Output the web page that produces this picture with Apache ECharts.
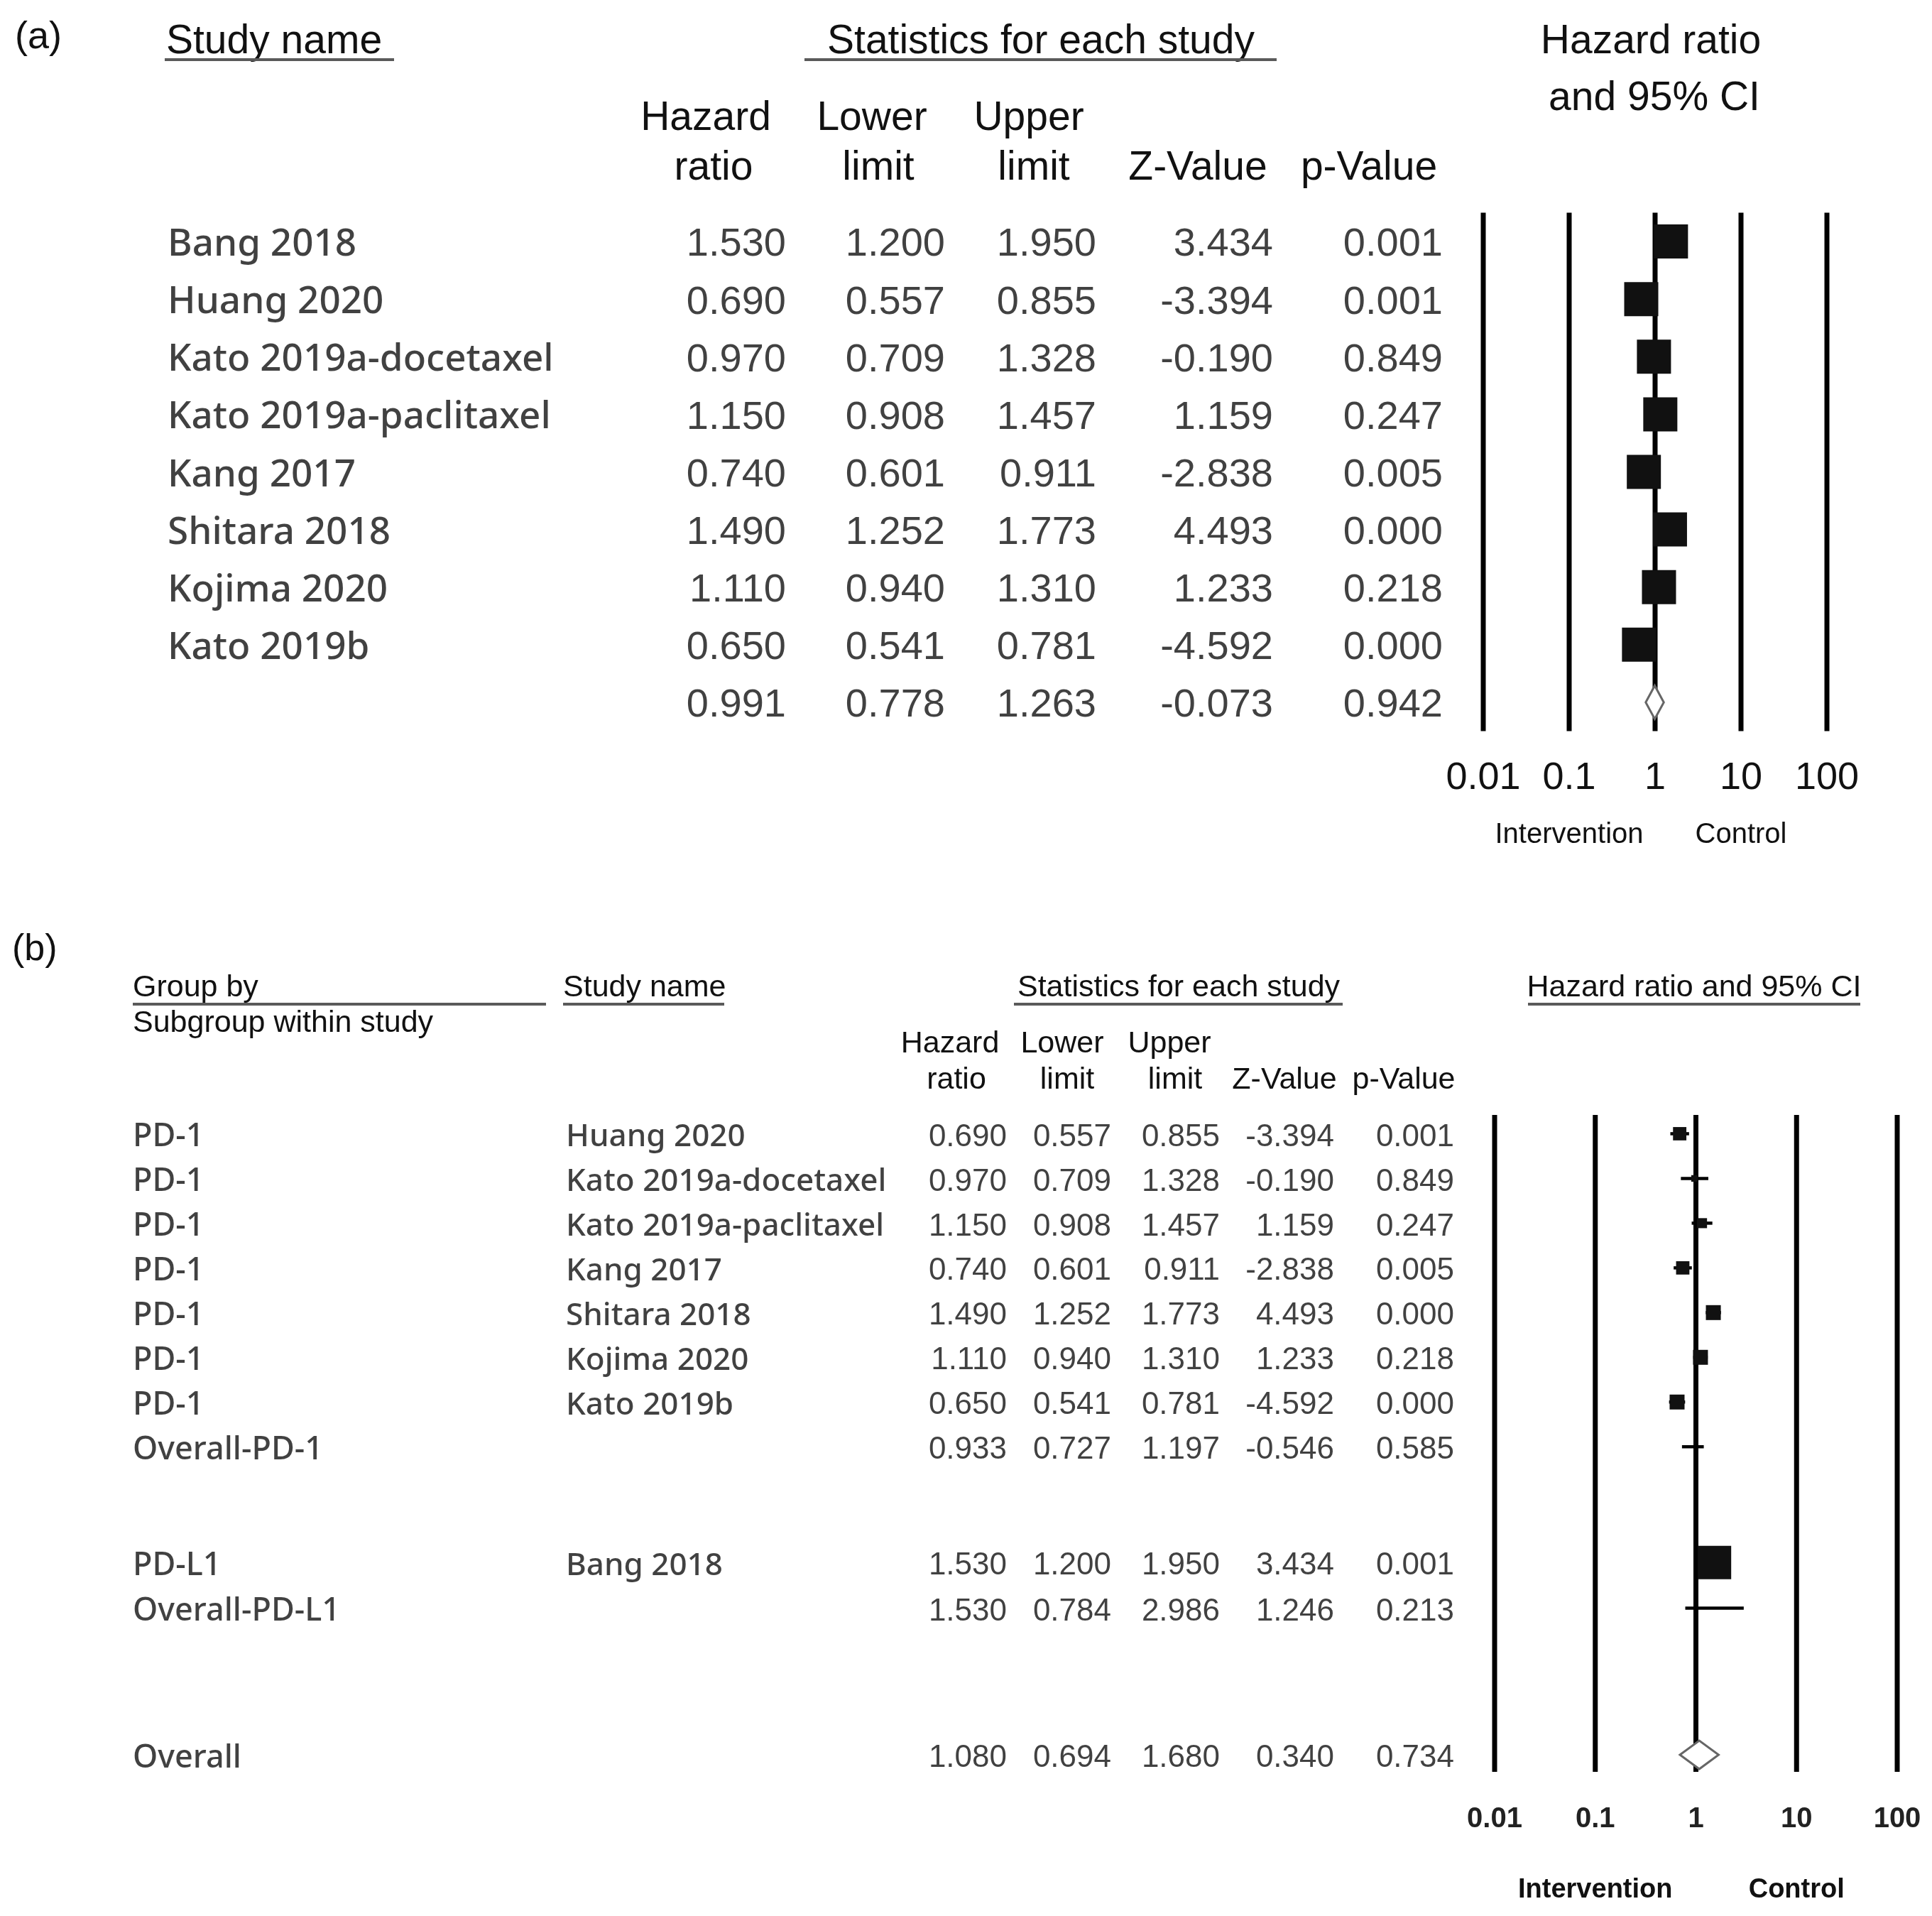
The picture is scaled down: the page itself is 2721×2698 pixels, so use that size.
<!DOCTYPE html>
<html>
<head>
<meta charset="utf-8">
<script src="https://cdn.jsdelivr.net/npm/echarts@6/dist/echarts.min.js"></script>
<style>
html,body{margin:0;padding:0;background:#fff;}
#chart{width:2721px;height:2698px;}
</style>
</head>
<body>
<div id="chart"></div>
<script>
// ---------------- DATA: panel (a) ----------------
const studiesA = ['Bang 2018','Huang 2020','Kato 2019a-docetaxel','Kato 2019a-paclitaxel','Kang 2017','Shitara 2018','Kojima 2020','Kato 2019b',''];
const hrA    = [1.530,0.690,0.970,1.150,0.740,1.490,1.110,0.650,0.991];
const lowerA = [1.200,0.557,0.709,0.908,0.601,1.252,0.940,0.541,0.778];
const upperA = [1.950,0.855,1.328,1.457,0.911,1.773,1.310,0.781,1.263];
const zA     = [3.434,-3.394,-0.190,1.159,-2.838,4.493,1.233,-4.592,-0.073];
const pA     = [0.001,0.001,0.849,0.247,0.005,0.000,0.218,0.000,0.942];
const kindA  = ['study','study','study','study','study','study','study','study','overall'];

// ---------------- DATA: panel (b) ----------------
const groupB = ['PD-1','PD-1','PD-1','PD-1','PD-1','PD-1','PD-1','Overall-PD-1','PD-L1','Overall-PD-L1','Overall'];
const studyB = ['Huang 2020','Kato 2019a-docetaxel','Kato 2019a-paclitaxel','Kang 2017','Shitara 2018','Kojima 2020','Kato 2019b','','Bang 2018','',''];
const hrB    = [0.690,0.970,1.150,0.740,1.490,1.110,0.650,0.933,1.530,1.530,1.080];
const lowerB = [0.557,0.709,0.908,0.601,1.252,0.940,0.541,0.727,1.200,0.784,0.694];
const upperB = [0.855,1.328,1.457,0.911,1.773,1.310,0.781,1.197,1.950,2.986,1.680];
const zB     = [-3.394,-0.190,1.159,-2.838,4.493,1.233,-4.592,-0.546,3.434,1.246,0.340];
const pB     = [0.001,0.849,0.247,0.005,0.000,0.218,0.000,0.585,0.001,0.213,0.734];
const weightB= [16,4,9,16,20,20,20,0,100,0,0];   // relative study weights
const kindB  = ['study','study','study','study','study','study','study','subtotal','study','subtotal','overall'];

// axis ticks, tick labels and direction labels
const tickValues = [0.01, 0.1, 1, 10, 100];
const tickLabels = ['0.01','0.1','1','10','100'];
const directionLabels = ['Intervention','Control'];

// ---------------- LAYOUT (pixels) ----------------
const W = 2721;
const ARIAL = '"Liberation Sans", Arial, sans-serif';
const MALGUN = '"Noto Sans", "Open Sans", sans-serif';
const INK = '#111';
const TY = 4;   // vertical nudge for header text
const TROW = 5; // vertical nudge for table rows

const LA = { top: 299.5, height: 730, plotLeft: 2089, plotWidth: 484,
  nameX: 236, cols: [1107, 1331, 1544, 1793, 2032], numSize: 56, nameSize: 53, square: 48, diamondH: 47 };
const LB = { top: 1570, height: 925, plotLeft: 2105, plotWidth: 567, yMin: -0.42, yMax: 14.27,
  rowSlots: [0,1,2,3,4,5,6,7,9.59,10.61,13.89],
  groupX: 187, nameX: 797, cols: [1418, 1565, 1718, 1879, 2048], numSize: 44, nameSize: 44, groupSize: 45, diamondH: 40 };

const KIND = { study: 0, subtotal: 1, overall: 2 };

function forestRender(diamondH) {
  return function (params, api) {
    const hr = api.value(0), lo = api.value(1), hi = api.value(2), row = api.value(3);
    const side = api.value(4), kind = api.value(5);
    const c = api.coord([hr, row]), l = api.coord([lo, row]), h = api.coord([hi, row]);
    if (kind === 2) {
      return { type: 'polygon', shape: { points: [[l[0], c[1]], [c[0], c[1] - diamondH / 2], [h[0], c[1]], [c[0], c[1] + diamondH / 2]] },
        style: { fill: '#fff', stroke: '#666', lineWidth: 3 } };
    }
    const children = [{ type: 'line', shape: { x1: l[0], y1: c[1], x2: h[0], y2: c[1] }, style: { stroke: '#000', lineWidth: 4.5 } }];
    if (side > 0) {
      children.push({ type: 'rect', shape: { x: c[0] - side / 2, y: c[1] - side / 2, width: side, height: side }, style: { fill: '#111' } });
    }
    return { type: 'group', children: children };
  };
}
function refLineRender(params, api) {
  const x = api.coord([api.value(0), api.value(1)])[0];
  const cs = params.coordSys;
  return { type: 'line', shape: { x1: x, y1: cs.y, x2: x, y2: cs.y + cs.height }, style: { stroke: '#000', lineWidth: 7 } };
}

function logAxis(gridIndex, size, weight, color, margin) {
  return { gridIndex: gridIndex, type: 'log', logBase: 10, min: 0.01, max: 100, splitNumber: 4, position: 'bottom',
    axisLine: { show: false }, axisTick: { show: false }, splitLine: { show: false },
    axisLabel: { show: true, margin: margin, fontSize: size, fontFamily: ARIAL, fontWeight: weight, color: color,
      formatter: v => tickLabels[Math.round(Math.log10(v)) + 2] || '' } };
}
function dirAxis(gridIndex, offset, size, weight) {
  return { gridIndex: gridIndex, type: 'log', logBase: 10, min: 0.01, max: 100, splitNumber: 4, position: 'bottom', offset: offset,
    axisLine: { show: false }, axisTick: { show: false }, splitLine: { show: false },
    axisLabel: { show: true, margin: 0, fontSize: size, fontFamily: ARIAL, fontWeight: weight, color: INK,
      formatter: v => { const e = Math.round(Math.log10(v)); return e === -1 ? directionLabels[0] : (e === 1 ? directionLabels[1] : ''); } } };
}

function textSeries(xAxisIndex, yAxisIndex, x, rows, texts, align, size, family, weight) {
  return { type: 'scatter', xAxisIndex: xAxisIndex, yAxisIndex: yAxisIndex, silent: true, symbolSize: 1,
    itemStyle: { color: 'rgba(0,0,0,0)' },
    data: rows.map(r => [x, r]),
    label: { show: true, position: 'inside', align: align, verticalAlign: 'middle',
      fontSize: size, fontFamily: family, fontWeight: weight || 'normal', color: INK, formatter: p => texts[p.dataIndex] },
    labelLayout: { hideOverlap: false }, z: 10 };
}
const f3 = v => v.toFixed(3);

const rowsA = hrA.map((_, i) => i);
const rowsB = LB.rowSlots;

const forestA = hrA.map((v, i) => [v, lowerA[i], upperA[i], rowsA[i], LA.square, KIND[kindA[i]]]);
const forestB = hrB.map((v, i) => [v, lowerB[i], upperB[i], rowsB[i], weightB[i] > 0 ? 4.7 * Math.sqrt(weightB[i]) : 0, KIND[kindB[i]]]);
const refData = tickValues.map(v => [v, 0]);

// ---------------- static header text ----------------
function txt(x, y, text, size, align, family, weight) {
  return { type: 'text', x: x, y: y + TY, silent: true,
    style: { text: text, fontSize: size, fontFamily: family || ARIAL, fontWeight: weight || 'normal', fill: INK,
      align: align || 'left', textAlign: align || 'left', verticalAlign: 'middle', textVerticalAlign: 'middle' } };
}
function uline(x1, x2, y) {
  return { type: 'line', silent: true, shape: { x1: x1, y1: y, x2: x2, y2: y }, style: { stroke: '#5a5a5a', lineWidth: 4 } };
}
const graphics = [
  // panel (a)
  txt(21, 49, '(a)', 54),
  txt(234, 55, 'Study name', 57), uline(232, 555, 84),
  txt(1466, 55, 'Statistics for each study', 57, 'center'), uline(1133, 1798, 84),
  txt(2325, 55, 'Hazard ratio', 57, 'center'), txt(2330, 135, 'and 95% CI', 57, 'center'),
  txt(994, 163, 'Hazard', 57, 'center'), txt(1005, 233, 'ratio', 57, 'center'),
  txt(1228, 163, 'Lower', 57, 'center'), txt(1237, 233, 'limit', 57, 'center'),
  txt(1449, 163, 'Upper', 57, 'center'), txt(1456, 233, 'limit', 57, 'center'),
  txt(1687, 233, 'Z-Value', 57, 'center'), txt(1928, 233, 'p-Value', 57, 'center'),
  // panel (b)
  txt(17, 1334, '(b)', 52),
  txt(187, 1387, 'Group by', 43), uline(187, 769, 1414),
  txt(187, 1437, 'Subgroup within study', 43),
  txt(793, 1387, 'Study name', 43), uline(793, 1020, 1414),
  txt(1660, 1387, 'Statistics for each study', 43, 'center'), uline(1428, 1891, 1414),
  txt(2386, 1387, 'Hazard ratio and 95% CI', 43, 'center'), uline(2152, 2620, 1414),
  txt(1338, 1466, 'Hazard', 43, 'center'), txt(1347, 1517, 'ratio', 43, 'center'),
  txt(1496, 1466, 'Lower', 43, 'center'), txt(1503, 1517, 'limit', 43, 'center'),
  txt(1647, 1466, 'Upper', 43, 'center'), txt(1655, 1517, 'limit', 43, 'center'),
  txt(1809, 1517, 'Z-Value', 43, 'center'), txt(1977, 1517, 'p-Value', 43, 'center')
];

const option = {
  animation: false,
  backgroundColor: '#fff',
  grid: [
    { left: LA.plotLeft, width: LA.plotWidth, top: LA.top, height: LA.height },
    { left: 0, width: W, top: LA.top + TROW, height: LA.height },
    { left: LB.plotLeft, width: LB.plotWidth, top: LB.top, height: LB.height },
    { left: 0, width: W, top: LB.top + TROW, height: LB.height }
  ],
  xAxis: [
    logAxis(0, 54, 'normal', INK, 40),
    dirAxis(0, 126, 40, 'normal'),
    { gridIndex: 1, type: 'value', min: 0, max: W, show: false },
    logAxis(2, 40, 'bold', '#222', 47),
    dirAxis(2, 148, 38, 'bold'),
    { gridIndex: 3, type: 'value', min: 0, max: W, show: false }
  ],
  yAxis: [
    { gridIndex: 0, type: 'value', min: -0.5, max: 8.5, inverse: true, show: false },
    { gridIndex: 1, type: 'value', min: -0.5, max: 8.5, inverse: true, show: false },
    { gridIndex: 2, type: 'value', min: LB.yMin, max: LB.yMax, inverse: true, show: false },
    { gridIndex: 3, type: 'value', min: LB.yMin, max: LB.yMax, inverse: true, show: false }
  ],
  graphic: graphics,
  series: [
    { type: 'custom', xAxisIndex: 0, yAxisIndex: 0, silent: true, clip: false,
      encode: { x: 0, y: 1 }, renderItem: refLineRender, data: refData, z: 2 },
    { type: 'custom', xAxisIndex: 3, yAxisIndex: 2, silent: true, clip: false,
      encode: { x: 0, y: 1 }, renderItem: refLineRender, data: refData, z: 2 },
    { type: 'custom', xAxisIndex: 0, yAxisIndex: 0, silent: true, clip: false,
      encode: { x: [0, 1, 2], y: 3 }, renderItem: forestRender(LA.diamondH), data: forestA, z: 5 },
    { type: 'custom', xAxisIndex: 3, yAxisIndex: 2, silent: true, clip: false,
      encode: { x: [0, 1, 2], y: 3 }, renderItem: forestRender(LB.diamondH), data: forestB, z: 5 },
    // panel (a) table
    textSeries(2, 1, LA.nameX, rowsA, studiesA, 'left', LA.nameSize, MALGUN, 500),
    textSeries(2, 1, LA.cols[0], rowsA, hrA.map(f3), 'right', LA.numSize, ARIAL),
    textSeries(2, 1, LA.cols[1], rowsA, lowerA.map(f3), 'right', LA.numSize, ARIAL),
    textSeries(2, 1, LA.cols[2], rowsA, upperA.map(f3), 'right', LA.numSize, ARIAL),
    textSeries(2, 1, LA.cols[3], rowsA, zA.map(f3), 'right', LA.numSize, ARIAL),
    textSeries(2, 1, LA.cols[4], rowsA, pA.map(f3), 'right', LA.numSize, ARIAL),
    // panel (b) table
    textSeries(5, 3, LB.groupX, rowsB, groupB, 'left', LB.groupSize, MALGUN, 500),
    textSeries(5, 3, LB.nameX, rowsB, studyB, 'left', LB.nameSize, MALGUN, 500),
    textSeries(5, 3, LB.cols[0], rowsB, hrB.map(f3), 'right', LB.numSize, ARIAL),
    textSeries(5, 3, LB.cols[1], rowsB, lowerB.map(f3), 'right', LB.numSize, ARIAL),
    textSeries(5, 3, LB.cols[2], rowsB, upperB.map(f3), 'right', LB.numSize, ARIAL),
    textSeries(5, 3, LB.cols[3], rowsB, zB.map(f3), 'right', LB.numSize, ARIAL),
    textSeries(5, 3, LB.cols[4], rowsB, pB.map(f3), 'right', LB.numSize, ARIAL)
  ]
};

const chart = echarts.init(document.getElementById('chart'), null, { renderer: 'canvas' });
chart.setOption(option);
</script>
</body>
</html>
